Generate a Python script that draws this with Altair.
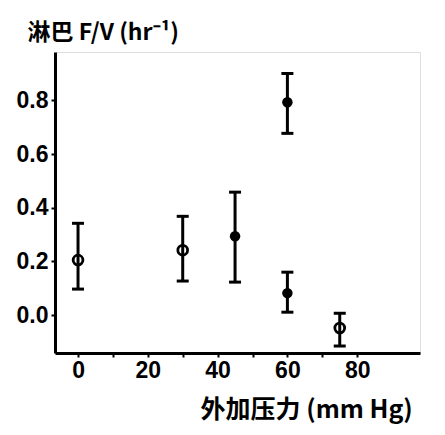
import altair as alt
import pandas as pd

pressure = [0, 30, 45, 60, 60, 75]
fv_mean = [0.205, 0.242, 0.294, 0.793, 0.082, -0.048]
fv_low = [0.097, 0.127, 0.123, 0.677, 0.011, -0.115]
fv_high = [0.342, 0.368, 0.458, 0.900, 0.160, 0.007]
filled = ["open", "open", "filled", "filled", "filled", "open"]

x_ticks = [0, 10, 20, 30, 40, 50, 60, 70, 80]
y_ticks = [0.0, 0.2, 0.4, 0.6, 0.8]

df = pd.DataFrame({"p": pressure, "m": fv_mean, "lo": fv_low, "hi": fv_high, "f": filled})

xs = alt.Scale(domain=[-6.6, 98], nice=False, zero=False)
ys = alt.Scale(domain=[-0.141, 0.98], nice=False, zero=False)

x_axis = alt.Axis(
    values=x_ticks,
    labelExpr="datum.value % 20 == 0 ? datum.label : ''",
    title="外加压力 (mm Hg)",
    titleAngle=0,
    titleAlign="left",
    titleAnchor="start",
    titleX=145,
    titleY=64,
    titleBaseline="alphabetic",
    titleFont="Noto Sans CJK SC",
    titleFontSize=25,
    titleFontWeight="bold",
    titleColor="black",
    labelFont="Liberation Sans",
    labelFontSize=23,
    labelFontWeight="bold",
    labelColor="black",
    labelPadding=2,
    tickSize=4,
    tickWidth=2,
    tickColor="black",
    domainColor="black",
    domainWidth=3,
    grid=False,
)

y_axis = alt.Axis(
    values=y_ticks,
    format=".1f",
    title="淋巴 F/V (hr⁻¹)",
    titleAngle=0,
    titleAlign="left",
    titleAnchor="start",
    titleX=-28,
    titleY=-13,
    titleBaseline="alphabetic",
    titleFont="Noto Sans CJK SC",
    titleFontSize=23,
    titleFontWeight="bold",
    titleColor="black",
    labelFont="Liberation Sans",
    labelFontSize=23,
    labelFontWeight="bold",
    labelColor="black",
    labelPadding=3,
    tickSize=4,
    tickWidth=2,
    tickColor="black",
    domainColor="black",
    domainWidth=3,
    grid=False,
)

base = alt.Chart(df)

bars = base.mark_rule(color="black", strokeWidth=3, opacity=1).encode(
    x=alt.X("p:Q", scale=xs, axis=x_axis),
    y=alt.Y("lo:Q", scale=ys, axis=y_axis),
    y2="hi:Q",
)
cap_lo = base.mark_tick(color="black", orient="horizontal", size=12, thickness=3, opacity=1).encode(
    x=alt.X("p:Q", scale=xs), y=alt.Y("lo:Q", scale=ys)
)
cap_hi = base.mark_tick(color="black", orient="horizontal", size=12, thickness=3, opacity=1).encode(
    x=alt.X("p:Q", scale=xs), y=alt.Y("hi:Q", scale=ys)
)
pts_open = base.transform_filter(alt.datum.f == "open").mark_point(
    shape="circle", size=95, stroke="black", strokeWidth=2.8, filled=False, opacity=1
).encode(x=alt.X("p:Q", scale=xs), y=alt.Y("m:Q", scale=ys))
pts_fill = base.transform_filter(alt.datum.f == "filled").mark_point(
    shape="circle", size=110, color="black", filled=True, opacity=1
).encode(x=alt.X("p:Q", scale=xs), y=alt.Y("m:Q", scale=ys))

chart = alt.layer(bars, cap_lo, cap_hi, pts_open, pts_fill).properties(
    width=365,
    height=301,
    autosize=alt.AutoSizeParams(type="none"),
    padding={"left": 47, "top": 44, "right": 17, "bottom": 78},
).configure_view(stroke=None).configure(background="white")

chart.save("out.html", embed_options={"renderer": "svg", "actions": False})
